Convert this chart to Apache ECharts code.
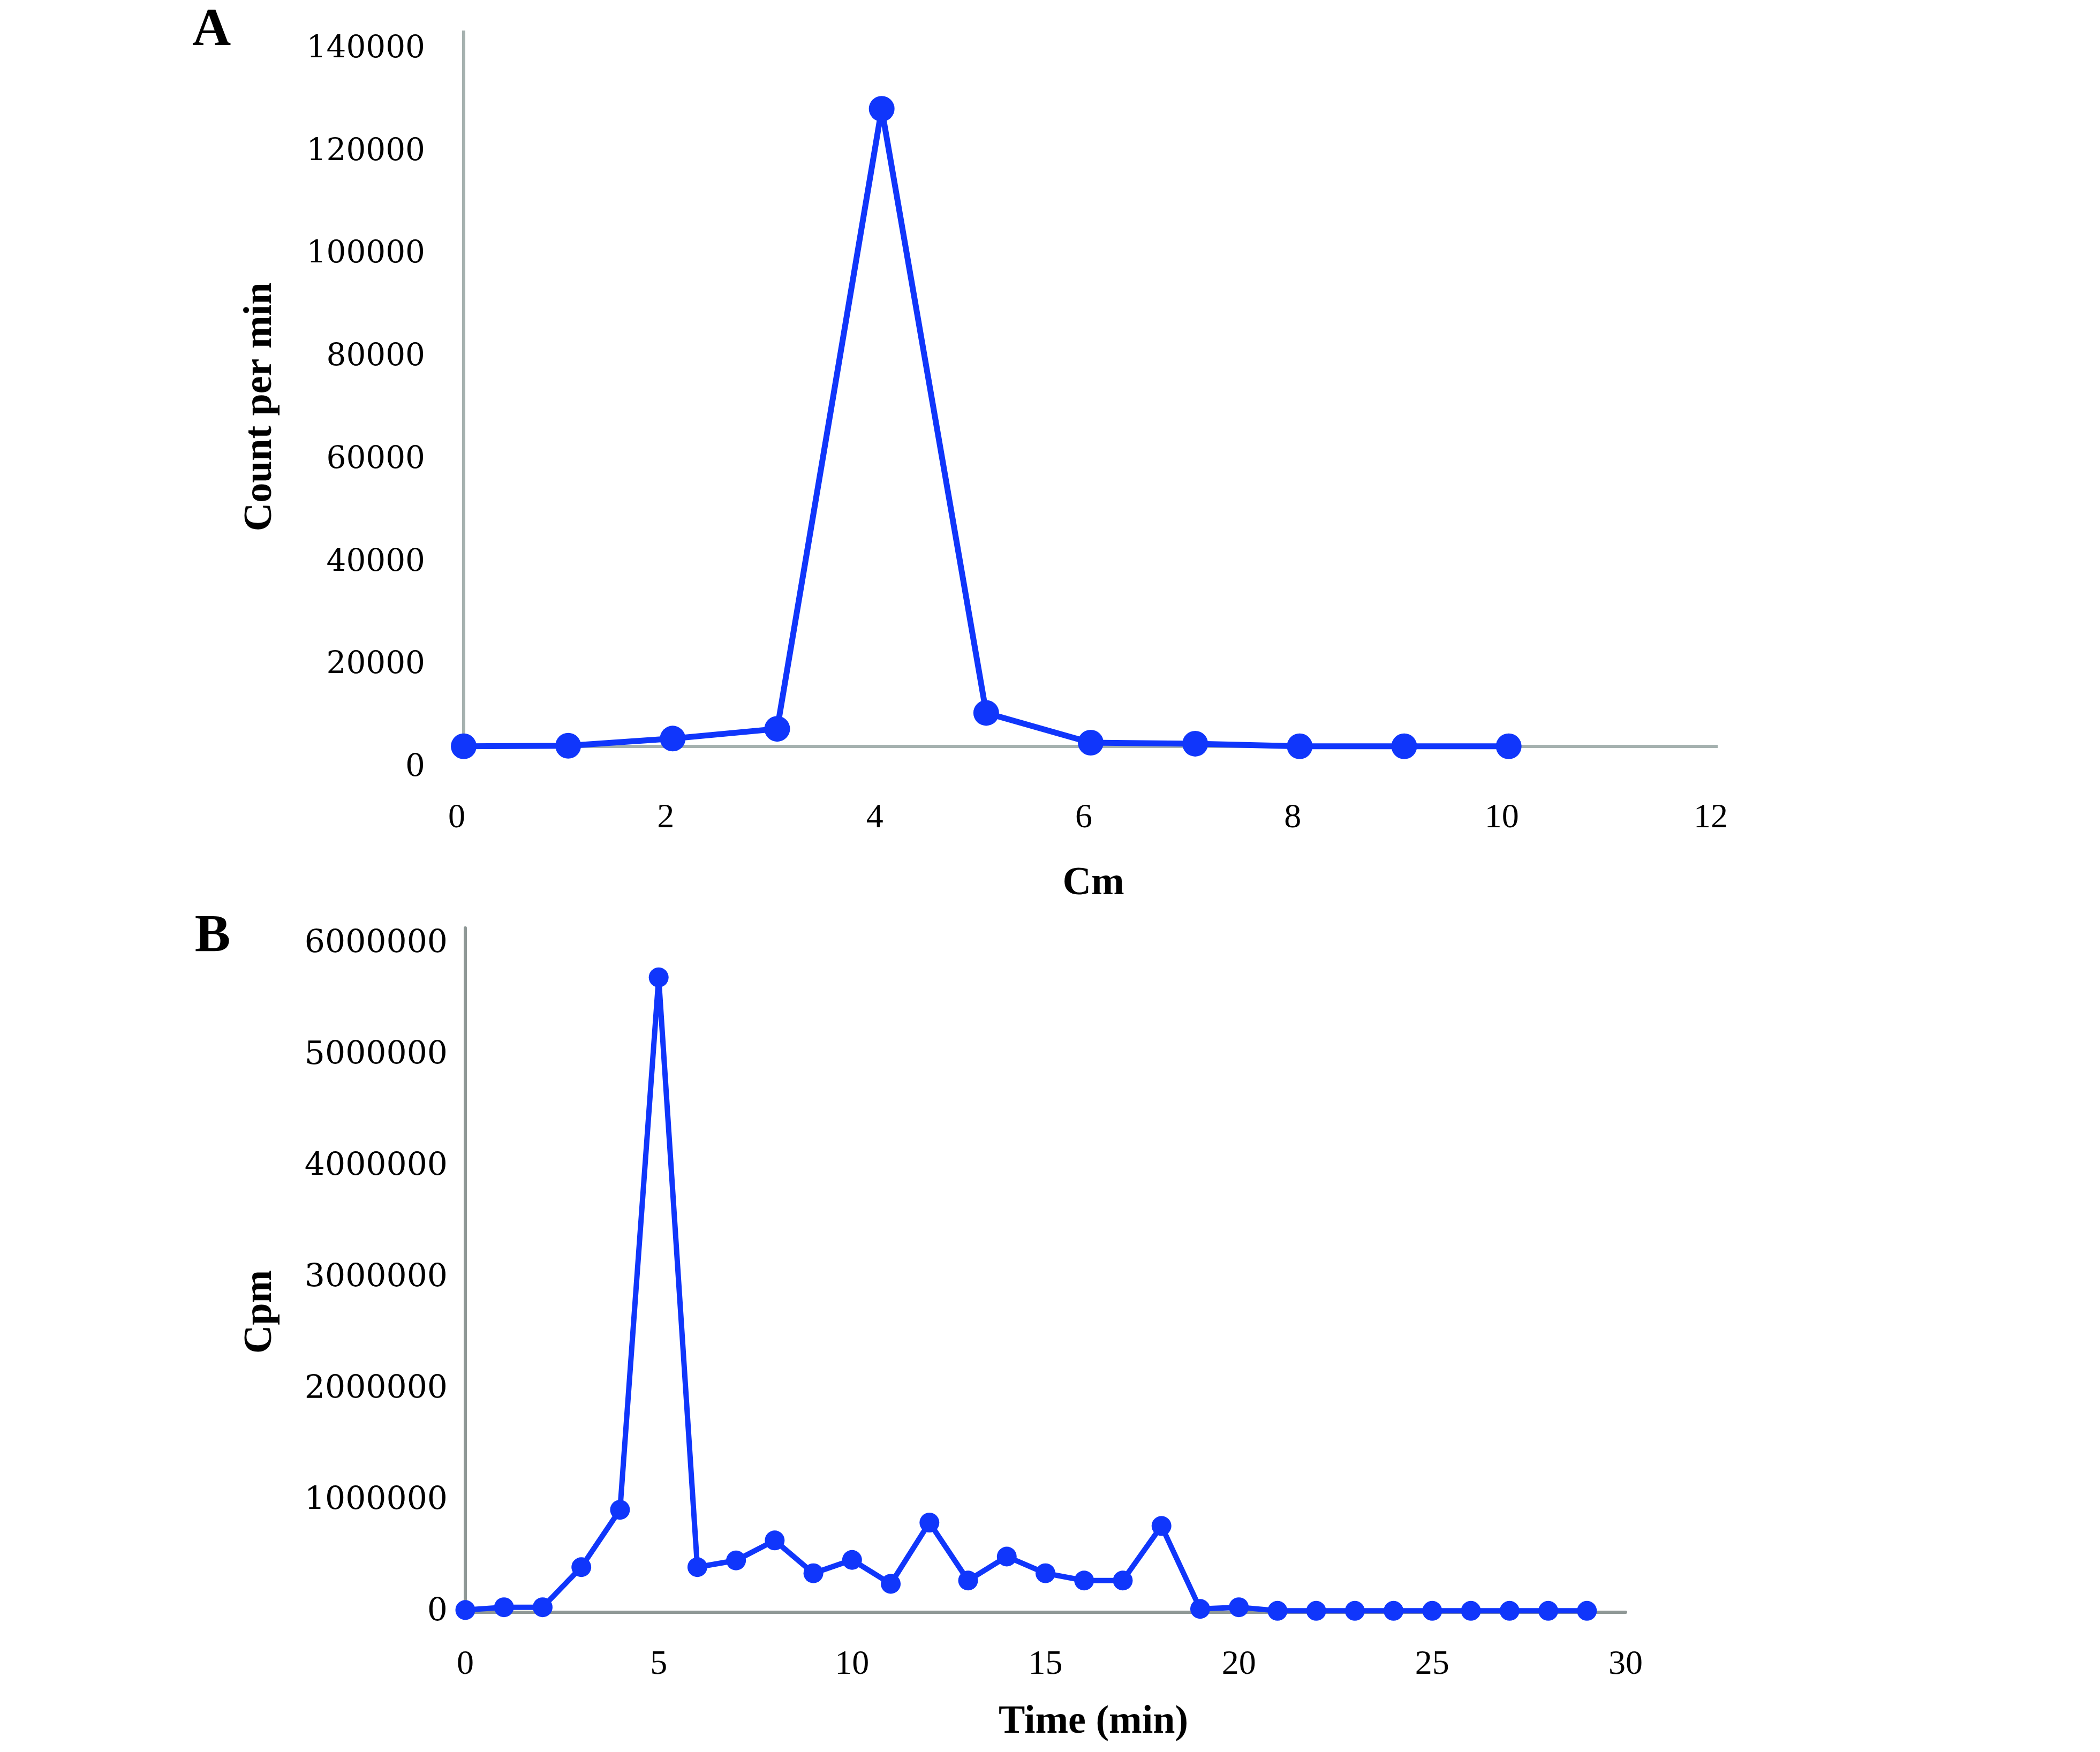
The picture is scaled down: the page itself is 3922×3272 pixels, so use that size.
<!DOCTYPE html>
<html>
<head>
<meta charset="utf-8">
<script src="https://cdn.jsdelivr.net/npm/echarts@6/dist/echarts.min.js"></script>
<style>
html,body{margin:0;padding:0;background:#ffffff;}
#c{width:3922px;height:3272px;}
</style>
</head>
<body>
<div id="c"></div>
<script>
// ---------- Panel A data ----------
const cmPositions = [0, 1, 2, 3, 4, 5, 6, 7, 8, 9, 10];
const countPerMin = [4200, 4300, 5700, 7600, 128400, 10700, 4900, 4700, 4200, 4200, 4200];
const cmTicks = [0, 2, 4, 6, 8, 10, 12];
const countTicks = [0, 20000, 40000, 60000, 80000, 100000, 120000, 140000];
const baselineA = 4200;      // level at which panel A's horizontal axis line is drawn
const axisTopA = 143650;     // level at which panel A's vertical axis line ends

// ---------- Panel B data ----------
const timeMin = [0,1,2,3,4,5,6,7,8,9,10,11,12,13,14,15,16,17,18,19,20,21,22,23,24,25,26,27,28,29];
const cpm = [20000, 45000, 45000, 405000, 920000, 5700000, 405000, 465000, 645000, 350000,
             470000, 255000, 805000, 285000, 500000, 350000, 285000, 285000, 775000, 30000,
             45000, 13000, 13000, 13000, 13000, 13000, 13000, 13000, 13000, 13000];
const timeTicks = [0, 5, 10, 15, 20, 25, 30];
const cpmTicks = [0, 1000000, 2000000, 3000000, 4000000, 5000000, 6000000];
const axisTopB = 6144000;

const BLUE = '#1036fb';
const AXIS_A = '#a5b1af';
const AXIS_B = '#8f9896';

const chart = echarts.init(document.getElementById('c'), null, {renderer: 'canvas'});

function pairs(xs, ys) { return xs.map((x, i) => [x, ys[i]]); }

const option = {
  backgroundColor: '#ffffff',
  animation: false,
  grid: [
    {left: 866, top: 57, width: 2342, height: 1377},
    {left: 869, top: 1733, width: 2167, height: 1278}
  ],
  xAxis: [
    {
      gridIndex: 0, type: 'value',
      min: cmTicks[0], max: cmTicks[cmTicks.length - 1], interval: cmTicks[1] - cmTicks[0],
      axisLine: {show: false}, axisTick: {show: false}, splitLine: {show: false},
      axisLabel: {
        fontFamily: 'Liberation Serif', fontSize: 64, color: '#000', margin: 62,
        padding: [0, 26, 0, 0],
        formatter: v => cmTicks.includes(v) ? String(v) : ''
      }
    },
    {
      gridIndex: 1, type: 'value',
      min: timeTicks[0], max: timeTicks[timeTicks.length - 1], interval: timeTicks[1] - timeTicks[0],
      axisLine: {show: true, onZero: true, lineStyle: {color: AXIS_B, width: 6}},
      axisTick: {show: false}, splitLine: {show: false},
      axisLabel: {
        fontFamily: 'Liberation Serif', fontSize: 64, color: '#000', margin: 66,
        formatter: v => timeTicks.includes(v) ? String(v) : ''
      }
    }
  ],
  yAxis: [
    {
      gridIndex: 0, type: 'value',
      min: countTicks[0], max: axisTopA, interval: countTicks[1] - countTicks[0],
      axisLine: {show: false}, axisTick: {show: false}, splitLine: {show: false},
      axisLabel: {
        fontFamily: 'DejaVu Serif', fontSize: 58, color: '#000', margin: 72,
        formatter: v => countTicks.includes(v) ? String(v) : ''
      }
    },
    {
      gridIndex: 1, type: 'value',
      min: cpmTicks[0], max: axisTopB, interval: cpmTicks[1] - cpmTicks[0],
      axisLine: {show: true, lineStyle: {color: AXIS_B, width: 6}},
      axisTick: {show: false}, splitLine: {show: false},
      axisLabel: {
        fontFamily: 'DejaVu Serif', fontSize: 60, color: '#000', margin: 33,
        formatter: v => cpmTicks.includes(v) ? String(v) : ''
      }
    }
  ],
  series: [
    {
      // axis lines of panel A, drawn through the chart's own scales
      type: 'line', xAxisIndex: 0, yAxisIndex: 0, data: [], z: 1, silent: true,
      markLine: {
        z: 1, silent: true, animation: false, symbol: ['none', 'none'],
        label: {show: false},
        emphasis: {disabled: true},
        lineStyle: {color: AXIS_A, width: 6, type: 'solid'},
        data: [
          [{coord: [cmTicks[0], baselineA]}, {coord: [cmTicks[cmTicks.length - 1], baselineA]}],
          [{coord: [cmTicks[0], baselineA]}, {coord: [cmTicks[0], axisTopA]}]
        ]
      }
    },
    {
      type: 'line', xAxisIndex: 0, yAxisIndex: 0, z: 3,
      data: pairs(cmPositions, countPerMin),
      symbol: 'circle', symbolSize: 48, showSymbol: true,
      lineStyle: {color: BLUE, width: 11},
      itemStyle: {color: BLUE}
    },
    {
      type: 'line', xAxisIndex: 1, yAxisIndex: 1, z: 3,
      data: pairs(timeMin, cpm),
      symbol: 'circle', symbolSize: 37, showSymbol: true,
      lineStyle: {color: BLUE, width: 10},
      itemStyle: {color: BLUE}
    }
  ],
  graphic: [
    {type: 'text', x: 395, y: 58, silent: true,
     style: {text: 'A', fontFamily: 'Liberation Serif', fontWeight: 'bold', fontSize: 100, fill: '#000',
             textAlign: 'center', textVerticalAlign: 'middle', align: 'center', verticalAlign: 'middle'}},
    {type: 'text', x: 397, y: 1750, silent: true,
     style: {text: 'B', fontFamily: 'Liberation Serif', fontWeight: 'bold', fontSize: 100, fill: '#000',
             textAlign: 'center', textVerticalAlign: 'middle', align: 'center', verticalAlign: 'middle'}},
    {type: 'text', x: 487, y: 760, rotation: Math.PI / 2, silent: true,
     style: {text: 'Count per min', fontFamily: 'Liberation Serif', fontWeight: 'bold', fontSize: 74, fill: '#000',
             textAlign: 'center', textVerticalAlign: 'middle', align: 'center', verticalAlign: 'middle'}},
    {type: 'text', x: 2042, y: 1651, silent: true,
     style: {text: 'Cm', fontFamily: 'Liberation Serif', fontWeight: 'bold', fontSize: 74, fill: '#000',
             textAlign: 'center', textVerticalAlign: 'middle', align: 'center', verticalAlign: 'middle'}},
    {type: 'text', x: 487, y: 2450, rotation: Math.PI / 2, silent: true,
     style: {text: 'Cpm', fontFamily: 'Liberation Serif', fontWeight: 'bold', fontSize: 74, fill: '#000',
             textAlign: 'center', textVerticalAlign: 'middle', align: 'center', verticalAlign: 'middle'}},
    {type: 'text', x: 2042, y: 3217, silent: true,
     style: {text: 'Time (min)', fontFamily: 'Liberation Serif', fontWeight: 'bold', fontSize: 74, fill: '#000',
             textAlign: 'center', textVerticalAlign: 'middle', align: 'center', verticalAlign: 'middle'}}
  ]
};
chart.setOption(option);
</script>
</body>
</html>
